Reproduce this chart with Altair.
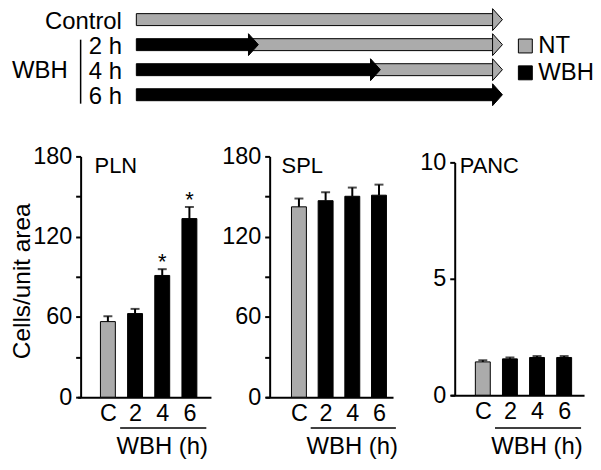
import json
import altair as alt
import pandas as pd

W, H = 588, 456
GRAY = "#ababab"
FONT = "Liberation Sans"
FS = 23.5

# ---------------- schematic data ----------------
rows = ["Control", "2 h", "4 h", "6 h"]
seg_row = ["Control", "2 h", "2 h", "4 h", "4 h", "6 h"]
seg_start = [0, 0, 2, 0, 4, 0]
seg_end = [6, 2, 6, 4, 6, 6]
seg_treat = ["NT", "WBH", "NT", "WBH", "NT", "WBH"]
treatments = ["NT", "WBH"]

# ---------------- bar data ----------------
cats = ["C", "2", "4", "6"]
groups = ["NT", "WBH", "WBH", "WBH"]
pln_mean = [56.5, 62.5, 91.0, 133.5]
pln_err = [4.0, 3.5, 4.7, 8.7]
pln_star = ["", "", "*", "*"]
spl_mean = [142.3, 146.9, 150.2, 151.0]
spl_err = [6.2, 6.3, 6.5, 7.9]
spl_star = ["", "", "", ""]
panc_mean = [1.43, 1.56, 1.62, 1.62]
panc_err = [0.07, 0.06, 0.06, 0.06]
panc_star = ["", "", "", ""]

fill_scale = alt.Scale(domain=treatments, range=[GRAY, "black"])

# ---------------- schematic ----------------
seg = pd.DataFrame({"row": seg_row, "start": seg_start, "end": seg_end, "treat": seg_treat})
t_x = alt.Scale(domain=[0, 6], range=[129, 497], nice=False, zero=False)
t_y = alt.Scale(type="point", domain=rows, range=[10.5, 86], padding=0)
row_axis = alt.Axis(orient="left", offset=-129, domain=False, ticks=False, grid=False,
                    labelPadding=15, labelFontSize=24, labelColor="black", title=None,
                    labelOffset=1.5)
legend = alt.Legend(orient="none", legendX=508, legendY=25, title=None, symbolType="square",
                    symbolSize=196, symbolStrokeColor="black", symbolStrokeWidth=1,
                    labelFontSize=24, labelOffset=1, rowPadding=3, padding=0,
                    labelColor="black", symbolOpacity=1)

ARROW = "M-0.45,-1L0.45,0L-0.45,1Z"
base_top = alt.Chart(seg)
body0 = base_top.transform_filter("datum.start == 0").mark_bar(
    height=12, stroke="black", strokeWidth=1, x2Offset=-9
).encode(
    x=alt.X("start:Q", scale=t_x, axis=None),
    x2="end:Q",
    y=alt.Y("row:N", scale=t_y, axis=row_axis),
    fill=alt.Fill("treat:N", scale=fill_scale, legend=legend),
)
body1 = base_top.transform_filter("datum.start > 0").mark_bar(
    height=12, stroke="black", strokeWidth=1, xOffset=-9, x2Offset=-9
).encode(x="start:Q", x2="end:Q", y="row:N", fill="treat:N")
heads = base_top.mark_point(
    shape=ARROW, size=484, filled=True, stroke="black", strokeWidth=1, opacity=1, xOffset=-5
).encode(x="end:Q", y="row:N", fill="treat:N")

ann = pd.DataFrame({"r1": ["2 h"], "r2": ["6 h"], "mid": ["4 h"], "txt": ["WBH"]})
bracket = alt.Chart(ann).mark_rule(strokeWidth=1.5, color="black", yOffset=-5, y2Offset=9).encode(
    x=alt.value(73), y=alt.Y("r1:N", scale=t_y), y2="r2:N"
)
wbh_text = alt.Chart(ann).mark_text(align="left", baseline="middle", fontSize=24, dy=1).encode(
    x=alt.value(4), y=alt.Y("mid:N", scale=t_y), text="txt:N"
)
top = alt.layer(body0, body1, heads, bracket, wbh_text)

xlab_expr = json.dumps(cats) + "[datum.value]"


def panel(means, errs, stars, ydom, yrange, yvals, ystep, xdom, xrange, yaxis_x, xaxis_y,
          label, label_x, label_y, under_y, title_y, ytitle=None):
    df = pd.DataFrame({
        "i": list(range(len(cats))), "cat": cats, "group": groups,
        "mean": means, "upper": [m + e for m, e in zip(means, errs)], "star": stars,
    })
    xs = alt.Scale(domain=xdom, range=xrange, nice=False, zero=False)
    ys = alt.Scale(domain=ydom, range=yrange, nice=False, zero=True)
    xaxis = alt.Axis(orient="bottom", offset=xaxis_y - H, values=[0, 1, 2, 3], labelExpr=xlab_expr,
                     ticks=False, grid=False, domainWidth=2, domainColor="black",
                     labelFontSize=FS, labelPadding=4, labelColor="black", title=None,
                     labelFlush=False, labelOverlap=False)
    yargs = dict(orient="left", offset=-yaxis_x, values=yvals,
                 labelExpr=f"datum.value % {ystep} === 0 ? datum.label : ''",
                 tickSize=5, tickWidth=2, tickColor="black", domainWidth=2, domainColor="black",
                 grid=False, labelFontSize=FS, labelPadding=4, labelColor="black",
                 labelFlush=False, labelOverlap=False)
    if ytitle:
        yargs.update(title=ytitle, titleFontSize=24.5, titleFontWeight="normal", titleColor="black",
                     titleX=15 - yaxis_x, titleY=273, titleAngle=270, titleAlign="center",
                     titleBaseline="middle")
    else:
        yargs.update(title=None)
    yaxis = alt.Axis(**yargs)

    base = alt.Chart(df)
    bars = base.mark_bar(width=15, stroke="black", strokeWidth=1).encode(
        x=alt.X("i:Q", scale=xs, axis=xaxis),
        y=alt.Y("mean:Q", scale=ys, axis=yaxis),
        fill=alt.Fill("group:N", scale=fill_scale, legend=None),
    )
    err = base.mark_rule(strokeWidth=2, color="black").encode(x="i:Q", y="mean:Q", y2="upper:Q")
    cap = base.mark_tick(orient="horizontal", size=9, thickness=2, color="black").encode(
        x="i:Q", y="upper:Q")
    star = base.transform_filter("datum.star != ''").mark_text(
        fontSize=22, baseline="alphabetic", dy=0, color="black"
    ).encode(x="i:Q", y="upper:Q", text="star:N")
    lab = alt.Chart(pd.DataFrame({"t": [label]})).mark_text(
        align="left", baseline="middle", fontSize=22, color="black"
    ).encode(x=alt.value(label_x), y=alt.value(label_y), text="t:N")
    und = alt.Chart(pd.DataFrame({"a": [1], "b": [3]})).mark_rule(
        strokeWidth=1.5, color="black", xOffset=-15, x2Offset=17
    ).encode(x="a:Q", x2="b:Q", y=alt.value(under_y))
    wt = alt.Chart(pd.DataFrame({"m": [2], "t": ["WBH (h)"]})).mark_text(
        baseline="middle", fontSize=24, color="black"
    ).encode(x="m:Q", y=alt.value(title_y), text="t:N")
    return alt.layer(bars, err, cap, star, lab, und, wt)


pln = panel(pln_mean, pln_err, pln_star, [0, 180], [390, 148], list(range(0, 181, 30)), 60,
            [-0.93, 3.61], [70, 204], 73, 390, "PLN", 87, 158, 421, 440, ytitle="Cells/unit area")
spl = panel(spl_mean, spl_err, spl_star, [0, 180], [390, 148], list(range(0, 181, 30)), 60,
            [-1.06, 3.34], [259, 387], 263, 390, "SPL", 275, 158, 421, 440)
panc = panel(panc_mean, panc_err, panc_star, [0, 10], [388, 154], [0, 5, 10], 5,
             [-1.0, 3.55], [445, 579], 449, 388, "PANC", 454, 158, 421, 440)

chart = alt.layer(top, pln, spl, panc).resolve_scale(
    x="independent", y="independent", fill="independent"
).resolve_axis(x="independent", y="independent").properties(
    width=W, height=H, autosize=alt.AutoSizeParams(type="none"), padding=0
).configure_view(stroke=None).configure_axis(
    labelFont=FONT, titleFont=FONT
).configure_text(font=FONT).configure_legend(labelFont=FONT)

chart.save("out.html", embed_options={"renderer": "svg", "actions": False})
